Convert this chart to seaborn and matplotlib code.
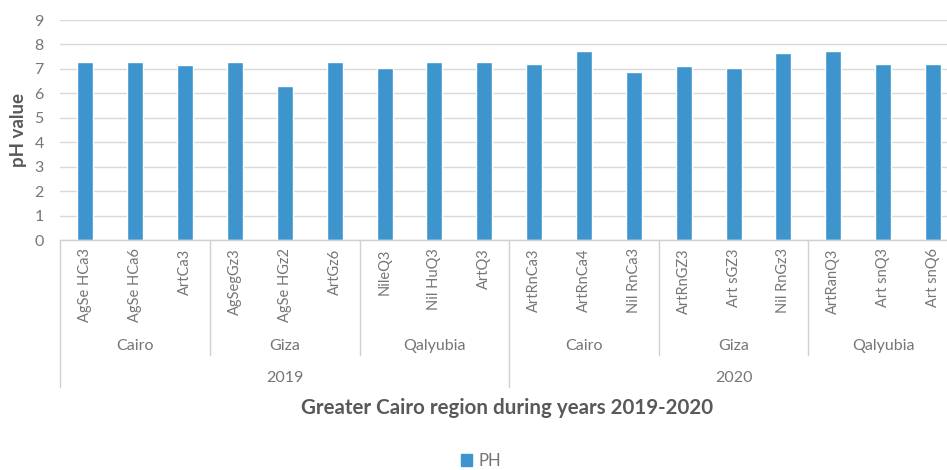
import matplotlib
matplotlib.use("Agg")
import matplotlib.pyplot as plt
import matplotlib.transforms as mtransforms
from matplotlib.patches import Patch
import seaborn as sns
import pandas as pd

# Sampling sites, grouped by governorate and year
samples = ["AgSe HCa3", "AgSe HCa6", "ArtCa3",
           "AgSegGz3", "AgSe HGz2", "ArtGz6",
           "NileQ3", "Nil HuQ3", "ArtQ3",
           "ArtRnCa3", "ArtRnCa4", "Nil RnCa3",
           "ArtRnGZ3", "Art sGZ3", "Nil RnGz3",
           "ArtRanQ3", "Art snQ3", "Art snQ6"]
ph_values = [7.30, 7.27, 7.17,
             7.28, 6.31, 7.29,
             7.02, 7.29, 7.29,
             7.21, 7.73, 6.86,
             7.10, 7.03, 7.63,
             7.74, 7.18, 7.18]
regions = ["Cairo", "Giza", "Qalyubia", "Cairo", "Giza", "Qalyubia"]
years = ["2019", "2020"]
per_region = 3

df = pd.DataFrame({"sample": samples, "PH": ph_values})

sns.set_theme(style="white")
plt.rcParams["font.family"] = ["Lato", "DejaVu Sans"]

W, H = 947, 470
fig = plt.figure(figsize=(W / 100, H / 100), dpi=100)
ax = fig.add_axes([60.4 / W, 230 / H, 897.6 / W, 220 / H])

bar_color = "#3E95CD"
sns.barplot(data=df, x="sample", y="PH", order=samples, color=bar_color,
            width=0.32, saturation=1, ax=ax, label="PH")

ax.set_xlim(-0.5, len(samples) - 0.5)
ax.set_ylim(0, 9)
ax.set_yticks(range(0, 10))
ax.yaxis.grid(True, color="#D9D9D9", linewidth=1.0)
ax.set_axisbelow(True)
for side in ["top", "right", "left"]:
    ax.spines[side].set_visible(False)
ax.spines["bottom"].set_color("#D0D0D0")
ax.spines["bottom"].set_linewidth(1.0)

tick_color = "#767676"
ax.tick_params(axis="y", length=0, pad=12, labelsize=11.5, labelcolor=tick_color)
ax.tick_params(axis="x", length=0, pad=6, labelsize=10.5, labelcolor=tick_color)
for lbl in ax.get_xticklabels():
    lbl.set_rotation(90)
    lbl.set_va("top")
    lbl.set_ha("center")

ax.set_ylabel("pH value", fontsize=13.5, fontweight="bold", color="#595959", labelpad=5)
ax.set_xlabel("")

# Multi-level category axis: region and year labels with separators
trans = mtransforms.blended_transform_factory(ax.transData, ax.transAxes)
sep_color = "#D0D0D0"
n_regions = len(regions)
for i in range(n_regions + 1):
    xb = i * per_region - 0.5
    bottom = -0.668 if i % 3 == 0 else -0.523
    ax.plot([xb, xb], [0, bottom], transform=trans, color=sep_color,
            linewidth=1.0, clip_on=False)
for i, reg in enumerate(regions):
    xc = i * per_region + (per_region - 1) / 2
    ax.text(xc, -0.482, reg, transform=trans, ha="center", va="center",
            fontsize=11.5, color=tick_color)
per_year = per_region * 3
for j, yr in enumerate(years):
    xc = j * per_year + (per_year - 1) / 2
    ax.text(xc, -0.627, yr, transform=trans, ha="center", va="center",
            fontsize=11.5, color=tick_color)

fig.text(507 / W, 1 - 408 / H, "Greater Cairo region during years 2019-2020",
         ha="center", va="center", fontsize=14.8, fontweight="bold", color="#595959")

if ax.get_legend() is not None:
    ax.get_legend().remove()
fig.legend(handles=[Patch(color=bar_color, label="PH")], loc="center",
           bbox_to_anchor=(481 / W, 1 - 461 / H), frameon=False,
           handlelength=0.7, handleheight=0.7, handletextpad=0.4,
           fontsize=12, labelcolor=tick_color)

fig.savefig("out.png", dpi=100)
